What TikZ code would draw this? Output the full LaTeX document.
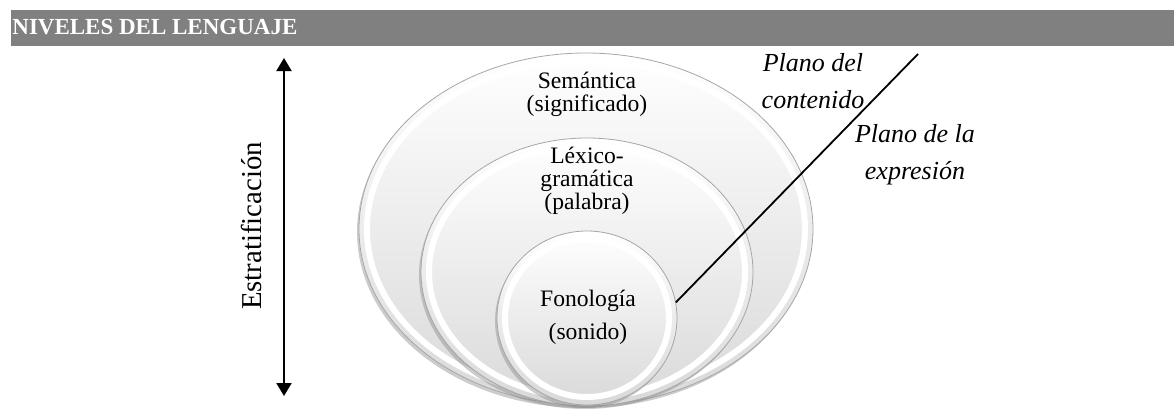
\documentclass[tikz,border=0pt]{standalone}
\usepackage{fontspec}
\setmainfont{Liberation Serif}
\usetikzlibrary{shapes.geometric,shadows,arrows.meta}

\begin{document}
\begin{tikzpicture}[
          x=0.5pt, y=-0.5pt,
          stratum/.style={ellipse, draw=gray!70, line width=0.4pt, inner sep=0pt,
            top color=white, bottom color=gray!30,
            drop shadow={opacity=0.4, shadow xshift=-1pt, shadow yshift=-1.5pt}},
          rim/.style={draw=white, line width=3pt},
          lvltext/.style={font=\fontsize{11.8}{11.5}\selectfont, align=center, inner sep=0pt},
          plane/.style={font=\fontsize{13}{18.5}\selectfont\itshape, align=center, inner sep=0pt},
          header/.style={font=\fontsize{11.5}{13}\selectfont\bfseries, text=white, inner sep=0pt, anchor=west},
          stratarrow/.style={line width=1pt, {Triangle[length=6.5pt,width=7.5pt]}-{Triangle[length=6.5pt,width=7.5pt]}}
        ]
        \useasboundingbox (0,0) rectangle (1174,412);

        % Title bar
        \fill[black!50] (11,10) rectangle (1174,46);
        \node[header] (title) at (12,27) {NIVELES DEL LENGUAJE};

        % Stratification arrow
        \coordinate (strtop) at (284,58);
        \coordinate (strbot) at (284,396);
        \draw[stratarrow] (strtop) -- (strbot);
        \node[rotate=90, font=\fontsize{14.4}{16}\selectfont, inner sep=0pt] (strat) at (252,226) {Estratificación};

        % Levels, outer to inner
        \node[stratum, minimum width=227pt, minimum height=176pt] (sem) at (586,229) {};
        \draw[rim] (sem.center) ellipse [x radius=109.5pt, y radius=84pt];
        \node[stratum, minimum width=166pt, minimum height=134pt] (lex) at (587,272) {};
        \draw[rim] (lex.center) ellipse [x radius=79pt, y radius=63pt];
        \node[stratum, minimum width=90pt, minimum height=87pt] (fon) at (587,318) {};
        \draw[rim] (fon.center) ellipse [x radius=41pt, y radius=39.5pt];

        \node[lvltext] (semtxt) at (587,94) {Semántica\\(significado)};
        \node[lvltext] (lextxt) at (587,181) {Léxico-\\gramática\\(palabra)};
        \node[lvltext] (fontxt) at (588,317) {Fonología\\[5pt] (sonido)};

        % Planes
        \node[plane] (content) at (813,81) {Plano del\\contenido};
        \node[plane] (expr) at (915,155) {Plano de la\\expresión};
        \coordinate (cut) at (918,54);
        \draw[line width=0.9pt] (fon.10) -- (cut);

      \end{tikzpicture}
\end{document}
